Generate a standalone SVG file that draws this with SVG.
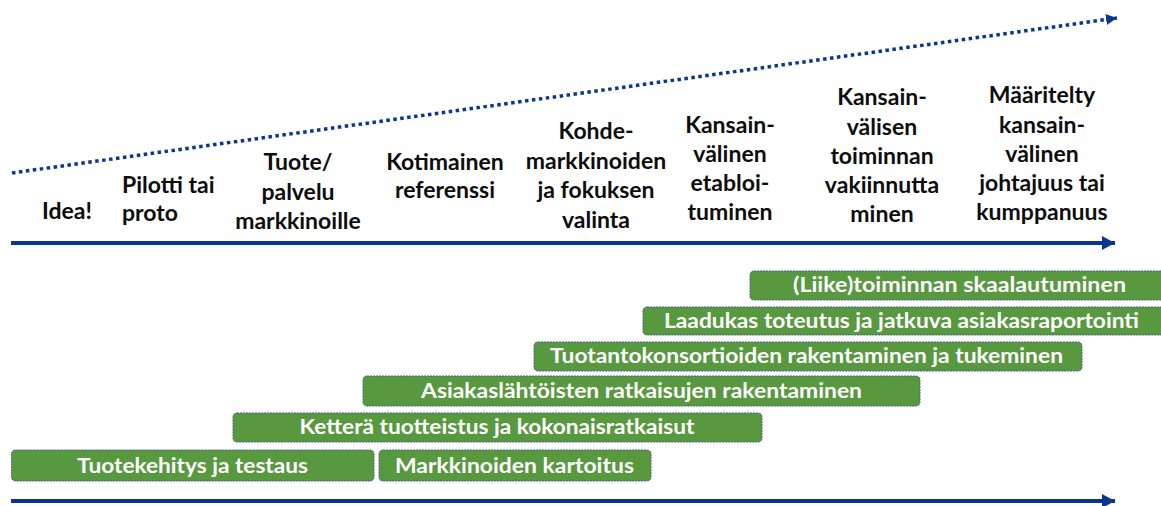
<svg xmlns="http://www.w3.org/2000/svg" width="1161" height="506" viewBox="0 0 1161 506">
<style>
.lbl{font-family:Lato,"Open Sans","Liberation Sans",sans-serif;font-weight:700;font-size:23px;fill:#0d0d0d;text-anchor:middle}
.lbl-l{text-anchor:start}
.bar{fill:#58993f;stroke:#46608c;stroke-width:1;stroke-dasharray:2 1}
.bt{font-family:Lato,"Open Sans","Liberation Sans",sans-serif;font-weight:700;font-size:20px;fill:#fff;text-anchor:middle}
.axis{stroke:#0a3590;stroke-width:4;fill:none}
.dot{stroke:#0a3590;stroke-width:3.5;stroke-dasharray:3.5 3.5;fill:none}
</style>
<defs>
<marker id="ah" markerUnits="userSpaceOnUse" markerWidth="14" markerHeight="14" refX="13" refY="7" orient="auto">
<path d="M0,0 L13,7 L0,14 z" fill="#0a3590"/>
</marker>
<marker id="ahs" markerUnits="userSpaceOnUse" markerWidth="12" markerHeight="12" refX="11" refY="5.5" orient="auto">
<path d="M0,0 L11,5.5 L0,11 z" fill="#0a3590"/>
</marker>
</defs>
<rect width="1161" height="506" fill="#fff"/>
<g id="connectors">
<line class="dot" x1="12" y1="173" x2="1117" y2="18" marker-end="url(#ahs)"/>
<line class="axis" x1="11" y1="243" x2="1115" y2="243" marker-end="url(#ah)"/>
<line class="axis" x1="11" y1="501" x2="1115" y2="501" marker-end="url(#ah)"/>
</g>
<g id="stage-idea"><text class="lbl" x="67" y="219">Idea!</text></g>
<g id="stage-pilotti"><text class="lbl lbl-l" x="122" y="193">Pilotti tai</text><text class="lbl lbl-l" x="122" y="221">proto</text></g>
<g id="stage-tuote"><text class="lbl" x="298" y="170">Tuote/</text><text class="lbl" x="298" y="200">palvelu</text><text class="lbl" x="298" y="229">markkinoille</text></g>
<g id="stage-kotimainen"><text class="lbl" x="445" y="170">Kotimainen</text><text class="lbl" x="445" y="198">referenssi</text></g>
<g id="stage-kohde"><text class="lbl" x="596" y="139">Kohde-</text><text class="lbl" x="596" y="169">markkinoiden</text><text class="lbl" x="596" y="198">ja fokuksen</text><text class="lbl" x="596" y="228">valinta</text></g>
<g id="stage-etabloituminen"><text class="lbl" x="730" y="133">Kansain-</text><text class="lbl" x="730" y="162">välinen</text><text class="lbl" x="730" y="191">etabloi-</text><text class="lbl" x="730" y="220">tuminen</text></g>
<g id="stage-vakiinnuttaminen"><text class="lbl" x="882" y="105">Kansain-</text><text class="lbl" x="882" y="135">välisen</text><text class="lbl" x="882" y="164">toiminnan</text><text class="lbl" x="882" y="193">vakiinnutta</text><text class="lbl" x="882" y="222">minen</text></g>
<g id="stage-johtajuus"><text class="lbl" x="1042" y="103">Määritelty</text><text class="lbl" x="1042" y="133">kansain-</text><text class="lbl" x="1042" y="162">välinen</text><text class="lbl" x="1042" y="191">johtajuus tai</text><text class="lbl" x="1042" y="220">kumppanuus</text></g>
<g id="bar-skaalautuminen"><rect class="bar" x="750" y="271" width="420" height="29" rx="4"/><text class="bt" x="959.5" y="292" textLength="333" lengthAdjust="spacingAndGlyphs">(Liike)toiminnan skaalautuminen</text></g>
<g id="bar-laadukas"><rect class="bar" x="643" y="307" width="527" height="28" rx="4"/><text class="bt" x="901.5" y="328" textLength="475" lengthAdjust="spacingAndGlyphs">Laadukas toteutus ja jatkuva asiakasraportointi</text></g>
<g id="bar-tuotanto"><rect class="bar" x="534" y="342" width="548" height="29" rx="4"/><text class="bt" x="806.5" y="363" textLength="513" lengthAdjust="spacingAndGlyphs">Tuotantokonsortioiden rakentaminen ja tukeminen</text></g>
<g id="bar-asiakas"><rect class="bar" x="363" y="376" width="557" height="30" rx="4"/><text class="bt" x="641.5" y="398" textLength="441" lengthAdjust="spacingAndGlyphs">Asiakaslähtöisten ratkaisujen rakentaminen</text></g>
<g id="bar-kettera"><rect class="bar" x="233" y="413" width="529" height="29" rx="4"/><text class="bt" x="497" y="434" textLength="395" lengthAdjust="spacingAndGlyphs">Ketterä tuotteistus ja kokonaisratkaisut</text></g>
<g id="bar-tuotekehitys"><rect class="bar" x="11.5" y="450" width="362.5" height="31" rx="4"/><text class="bt" x="192.5" y="473" textLength="231" lengthAdjust="spacingAndGlyphs">Tuotekehitys ja testaus</text></g>
<g id="bar-markkinoiden"><rect class="bar" x="379" y="450" width="272" height="31" rx="4"/><text class="bt" x="514.5" y="473" textLength="239" lengthAdjust="spacingAndGlyphs">Markkinoiden kartoitus</text></g>
</svg>
